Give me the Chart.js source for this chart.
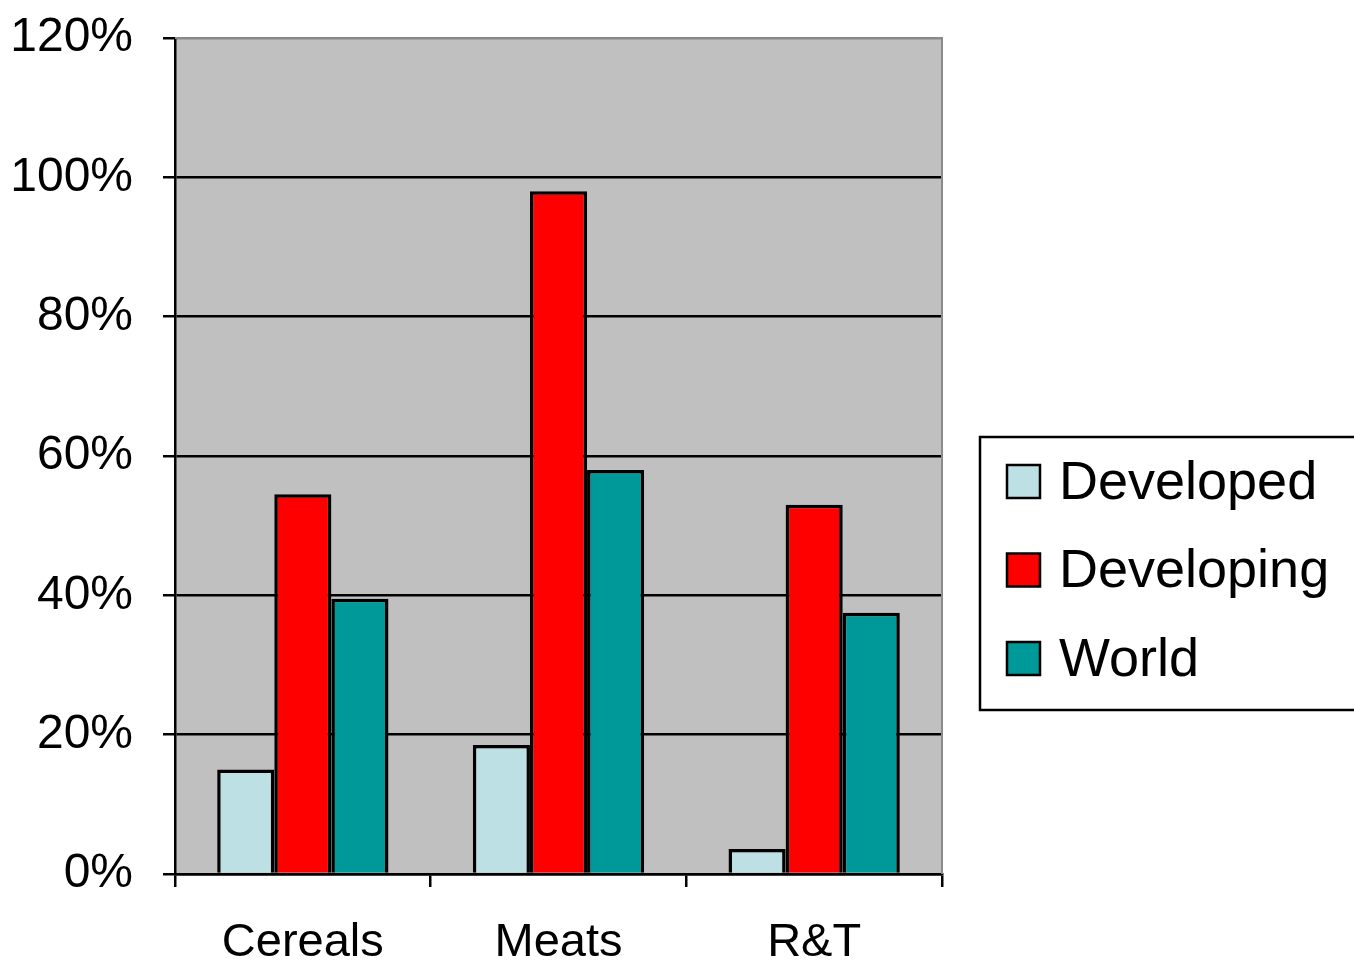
<!DOCTYPE html>
<html>
<head>
<meta charset="utf-8">
<script src="https://cdn.jsdelivr.net/npm/chart.js@4.4.1/dist/chart.umd.min.js"></script>
<style>
  html, body { margin: 0; padding: 0; background: #ffffff; }
  #wrap { width: 1354px; height: 964px; position: relative; }
</style>
</head>
<body>
<div id="wrap"><canvas id="chart" width="1354" height="964"></canvas></div>
<script>
// Share of growth by commodity group (percent)
const categories = ['Cereals', 'Meats', 'R&T'];
const seriesNames = ['Developed', 'Developing', 'World'];
const developed = [15, 18.5, 3.6];
const developing = [54.5, 98, 53];
const world = [39.5, 58, 37.5];
const yTicks = [0, 20, 40, 60, 80, 100, 120];

const colors = ['#BCE0E3', '#FF0000', '#009999'];
const FONT = '"Liberation Sans", Arial, sans-serif';

// Grey plot background and the light frame on the top/right sides
const plotFrame = {
  id: 'plotFrame',
  beforeDraw(chart) {
    const { ctx, chartArea: a } = chart;
    ctx.save();
    ctx.fillStyle = '#ffffff';
    ctx.fillRect(0, 0, chart.width, chart.height);
    ctx.fillStyle = '#C0C0C0';
    ctx.fillRect(a.left, a.top, a.right - a.left, a.bottom - a.top);
    ctx.restore();
  },
  afterDatasetsDraw(chart) {
    const { ctx, chartArea: a } = chart;
    ctx.save();
    ctx.strokeStyle = '#8a8a8a';
    ctx.lineWidth = 2;
    ctx.beginPath();
    ctx.moveTo(a.left, a.top);
    ctx.lineTo(a.right, a.top);
    ctx.lineTo(a.right, a.bottom);
    ctx.stroke();
    ctx.restore();
  }
};

// Boxed legend to the right of the plot
const boxLegend = {
  id: 'boxLegend',
  afterDraw(chart) {
    const { ctx, chartArea: a } = chart;
    const left = a.right + 38;
    const top = 437;
    const h = 273;
    ctx.save();
    ctx.strokeStyle = '#000000';
    ctx.lineWidth = 2.5;
    ctx.strokeRect(left, top, chart.width - left + 10, h);
    ctx.font = '54px ' + FONT;
    ctx.textBaseline = 'middle';
    ctx.textAlign = 'left';
    chart.data.datasets.forEach((ds, i) => {
      const cy = top + 44 + i * 88.5;
      const sx = left + 27;
      ctx.fillStyle = ds.backgroundColor;
      ctx.fillRect(sx, cy - 16, 33, 33);
      ctx.lineWidth = 2.5;
      ctx.strokeStyle = '#000000';
      ctx.strokeRect(sx, cy - 16, 33, 33);
      ctx.fillStyle = '#000000';
      ctx.fillText(ds.label, left + 79, cy + 3);
    });
    ctx.restore();
  }
};

const seriesValues = [developed, developing, world];

new Chart(document.getElementById('chart'), {
  type: 'bar',
  data: {
    labels: categories,
    datasets: seriesNames.map((name, i) => ({
      label: name,
      data: seriesValues[i],
      backgroundColor: colors[i],
      borderColor: '#000000',
      borderWidth: 3.5,
      categoryPercentage: 0.67,
      barPercentage: 1.0
    }))
  },
  options: {
    responsive: false,
    animation: false,
    events: [],
    layout: { padding: { top: 38, right: 412, bottom: 0, left: 0 } },
    plugins: {
      legend: { display: false },
      tooltip: { enabled: false }
    },
    scales: {
      x: {
        afterFit(scale) {
          scale.height = 90;
          scale.paddingLeft = 0;
          scale.paddingRight = 0;
        },
        grid: {
          offset: true,
          drawOnChartArea: false,
          drawTicks: true,
          tickLength: 13,
          tickColor: '#000000',
          lineWidth: 2.5
        },
        border: { display: true, color: '#000000', width: 2.5 },
        ticks: {
          color: '#000000',
          padding: 28,
          font: { family: FONT, size: 47 }
        }
      },
      y: {
        min: yTicks[0],
        max: yTicks[yTicks.length - 1],
        afterFit(scale) {
          scale.width = 175;
          scale.paddingTop = 0;
          scale.paddingBottom = 0;
        },
        afterBuildTicks(scale) { scale.ticks = yTicks.map(v => ({ value: v })); },
        grid: {
          color: ctx => (ctx.tick && ctx.tick.value === 120 ? '#8a8a8a' : '#000000'),
          lineWidth: 2.5,
          tickLength: 12,
          tickColor: '#000000'
        },
        border: { display: true, color: '#000000', width: 2.5 },
        ticks: {
          color: '#000000',
          padding: 30,
          font: { family: FONT, size: 48 },
          callback: v => v + '%'
        }
      }
    }
  },
  plugins: [plotFrame, boxLegend]
});
</script>
</body>
</html>
